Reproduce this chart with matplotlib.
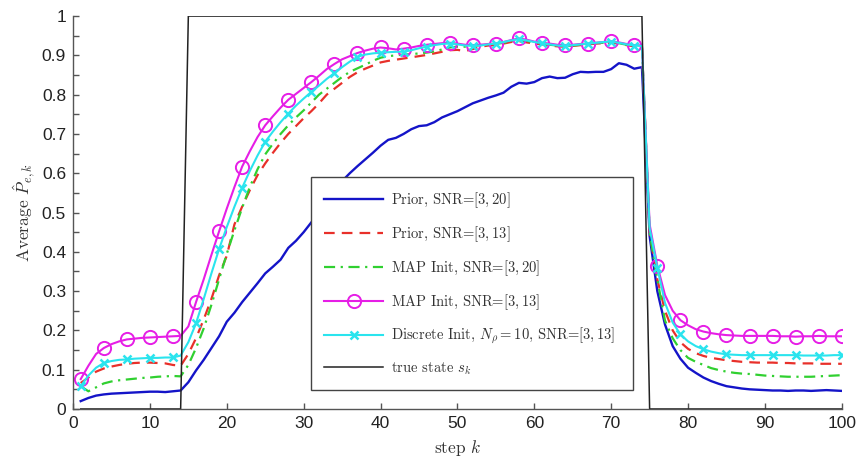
import numpy as np
import matplotlib
matplotlib.use("Agg")
import matplotlib.pyplot as plt
from matplotlib.lines import Line2D
from matplotlib.ticker import MultipleLocator
from matplotlib.font_manager import FontProperties

plt.rcParams['mathtext.fontset'] = 'cm'

# step index
k = np.arange(1, 101)

# Prior, SNR=[3,20]
prior_20 = [0.020, 0.028, 0.034, 0.037, 0.039, 0.040, 0.041, 0.042, 0.043, 0.044,
            0.044, 0.043, 0.045, 0.047, 0.068, 0.098, 0.125, 0.155, 0.185, 0.222,
            0.245, 0.272, 0.296, 0.320, 0.345, 0.362, 0.380, 0.410, 0.428, 0.450,
            0.475, 0.500, 0.525, 0.552, 0.580, 0.600, 0.618, 0.635, 0.652, 0.670,
            0.685, 0.690, 0.700, 0.712, 0.720, 0.722, 0.730, 0.742, 0.750, 0.758,
            0.768, 0.778, 0.785, 0.792, 0.798, 0.805, 0.820, 0.830, 0.828, 0.832,
            0.842, 0.846, 0.842, 0.843, 0.852, 0.858, 0.857, 0.858, 0.858, 0.865,
            0.880, 0.876, 0.866, 0.870, 0.440, 0.300, 0.215, 0.160, 0.128, 0.105,
            0.092, 0.080, 0.071, 0.064, 0.058, 0.055, 0.052, 0.050, 0.049, 0.048,
            0.047, 0.047, 0.046, 0.047, 0.047, 0.046, 0.047, 0.048, 0.047, 0.046]

# Prior, SNR=[3,13]
prior_13 = [0.066, 0.080, 0.095, 0.103, 0.108, 0.112, 0.115, 0.117, 0.118, 0.118,
            0.117, 0.116, 0.112, 0.110, 0.140, 0.180, 0.228, 0.280, 0.340, 0.390,
            0.470, 0.515, 0.557, 0.595, 0.625, 0.652, 0.677, 0.700, 0.720, 0.740,
            0.758, 0.778, 0.800, 0.815, 0.830, 0.845, 0.857, 0.866, 0.874, 0.882,
            0.886, 0.889, 0.892, 0.895, 0.898, 0.901, 0.905, 0.909, 0.913, 0.914,
            0.911, 0.916, 0.922, 0.925, 0.926, 0.930, 0.934, 0.936, 0.933, 0.930,
            0.928, 0.925, 0.923, 0.922, 0.924, 0.926, 0.928, 0.930, 0.931, 0.932,
            0.930, 0.926, 0.923, 0.922, 0.450, 0.330, 0.250, 0.200, 0.170, 0.153,
            0.142, 0.135, 0.130, 0.127, 0.124, 0.122, 0.120, 0.119, 0.118, 0.118,
            0.118, 0.117, 0.117, 0.116, 0.116, 0.116, 0.115, 0.115, 0.115, 0.115]

# MAP Init, SNR=[3,20]
map_20 = [0.058, 0.045, 0.055, 0.065, 0.070, 0.073, 0.075, 0.077, 0.079, 0.080,
          0.082, 0.083, 0.084, 0.083, 0.112, 0.155, 0.205, 0.265, 0.330, 0.395,
          0.455, 0.512, 0.565, 0.610, 0.648, 0.675, 0.700, 0.722, 0.742, 0.760,
          0.780, 0.800, 0.815, 0.830, 0.845, 0.858, 0.867, 0.876, 0.886, 0.894,
          0.898, 0.900, 0.902, 0.903, 0.905, 0.907, 0.910, 0.915, 0.920, 0.922,
          0.922, 0.924, 0.926, 0.928, 0.929, 0.932, 0.936, 0.939, 0.937, 0.933,
          0.930, 0.927, 0.925, 0.923, 0.925, 0.927, 0.929, 0.931, 0.932, 0.934,
          0.931, 0.927, 0.924, 0.923, 0.450, 0.330, 0.225, 0.180, 0.150, 0.130,
          0.120, 0.112, 0.104, 0.099, 0.095, 0.092, 0.090, 0.089, 0.087, 0.085,
          0.084, 0.083, 0.082, 0.082, 0.082, 0.082, 0.083, 0.084, 0.085, 0.086]

# MAP Init, SNR=[3,13]
map_13 = [0.076, 0.110, 0.140, 0.155, 0.165, 0.172, 0.177, 0.179, 0.181, 0.182,
          0.183, 0.184, 0.185, 0.186, 0.210, 0.272, 0.330, 0.392, 0.452, 0.510,
          0.565, 0.617, 0.656, 0.692, 0.722, 0.745, 0.767, 0.787, 0.802, 0.817,
          0.832, 0.848, 0.865, 0.878, 0.890, 0.898, 0.906, 0.912, 0.917, 0.920,
          0.918, 0.915, 0.917, 0.920, 0.924, 0.927, 0.929, 0.931, 0.932, 0.930,
          0.927, 0.926, 0.927, 0.929, 0.930, 0.934, 0.939, 0.943, 0.940, 0.935,
          0.932, 0.930, 0.927, 0.926, 0.927, 0.929, 0.930, 0.932, 0.934, 0.936,
          0.933, 0.929, 0.926, 0.925, 0.470, 0.365, 0.290, 0.250, 0.226, 0.213,
          0.203, 0.197, 0.193, 0.190, 0.188, 0.187, 0.186, 0.186, 0.186, 0.186,
          0.186, 0.185, 0.185, 0.184, 0.185, 0.185, 0.186, 0.185, 0.185, 0.185]

# Discrete Init, N_rho=10, SNR=[3,13]
disc_13 = [0.058, 0.085, 0.105, 0.117, 0.122, 0.125, 0.126, 0.128, 0.129, 0.130,
           0.130, 0.131, 0.131, 0.136, 0.170, 0.218, 0.280, 0.345, 0.407, 0.463,
           0.515, 0.563, 0.606, 0.645, 0.680, 0.706, 0.730, 0.752, 0.772, 0.790,
           0.807, 0.823, 0.840, 0.855, 0.870, 0.884, 0.896, 0.902, 0.905, 0.907,
           0.908, 0.909, 0.909, 0.913, 0.918, 0.922, 0.926, 0.929, 0.930, 0.928,
           0.925, 0.924, 0.925, 0.928, 0.930, 0.934, 0.938, 0.941, 0.938, 0.934,
           0.931, 0.928, 0.925, 0.924, 0.926, 0.928, 0.930, 0.932, 0.934, 0.935,
           0.932, 0.928, 0.925, 0.924, 0.460, 0.360, 0.270, 0.220, 0.190, 0.172,
           0.160, 0.152, 0.146, 0.142, 0.139, 0.138, 0.137, 0.137, 0.137, 0.137,
           0.137, 0.137, 0.137, 0.137, 0.136, 0.136, 0.136, 0.136, 0.137, 0.137]

# true state s_k: active from step 15 to 74
true_state = [0] * 14 + [1] * 60 + [0] * 26

labels = [r'Prior, SNR=$[3,20]$',
          r'Prior, SNR=$[3,13]$',
          r'MAP Init, SNR=$[3,20]$',
          r'MAP Init, SNR=$[3,13]$',
          r'Discrete Init, $N_\rho=10$, SNR=$[3,13]$',
          r'true state $s_k$']
yticks = [0, 0.1, 0.2, 0.3, 0.4, 0.5, 0.6, 0.7, 0.8, 0.9, 1]
ytick_labels = ['0', '0.1', '0.2', '0.3', '0.4', '0.5', '0.6', '0.7', '0.8', '0.9', '1']

styles = [dict(color='#1414c8', lw=1.7),
          dict(color='#e8302a', lw=1.6, linestyle=(0, (4.8, 3.2))),
          dict(color='#30d030', lw=1.6, linestyle=(0, (5, 2.5, 1, 2.5))),
          dict(color='#e61ee6', lw=1.5, marker='o', markersize=9.5,
               markerfacecolor='none', markeredgewidth=1.4),
          dict(color='#2ae4ee', lw=1.5, marker='x', markersize=6, markeredgewidth=1.8),
          dict(color='#222222', lw=1.1)]
series = [prior_20, prior_13, map_20, map_13, disc_13, true_state]

fig = plt.figure(figsize=(8.59, 4.59), dpi=100)
ax = fig.add_axes([0.085, 0.109, 0.895, 0.856])

handles = []
for y, st, lab in zip(series, styles, labels):
    ax.plot(k, y, markevery=3, **st)
    handles.append(Line2D([], [], label=lab, **st))

ax.set_xlim(0, 100)
ax.set_ylim(0, 1)
ax.xaxis.set_major_locator(MultipleLocator(10))
ax.set_yticks(yticks)
ax.set_yticklabels(ytick_labels)
ax.yaxis.set_minor_locator(MultipleLocator(0.05))

ax.spines['top'].set_visible(False)
ax.spines['right'].set_visible(False)
for s in ('left', 'bottom'):
    ax.spines[s].set_color('#555555')
    ax.spines[s].set_linewidth(1.0)
ax.tick_params(which='both', direction='in', color='#555555', length=4.5, width=1.0)
ax.tick_params(which='major', labelsize=12.5, pad=5, labelcolor='#222222')
for lab in ax.get_xticklabels() + ax.get_yticklabels():
    lab.set_fontfamily('Liberation Sans')

ax.set_xlabel(r'step $k$', fontfamily='cmr10', fontsize=12.5, labelpad=5, color='#333333')
ax.set_ylabel(r'Average $\hat{P}_{e,k}$', fontfamily='cmr10', fontsize=12.5, labelpad=3, color='#333333')

leg = ax.legend(handles=handles, loc='lower left', bbox_to_anchor=(0.309, 0.048, 0.42, 0.54),
                mode='expand', borderaxespad=0, prop=FontProperties(family='cmr10', size=10.5),
                handlelength=4.1, handletextpad=0.5, labelspacing=0.97, borderpad=0.9,
                fancybox=False, framealpha=1, numpoints=1)
leg.get_frame().set_edgecolor('#444444')
leg.get_frame().set_linewidth(1.0)
for t in leg.get_texts():
    t.set_color('#333333')

fig.savefig('out.png', dpi=100)
